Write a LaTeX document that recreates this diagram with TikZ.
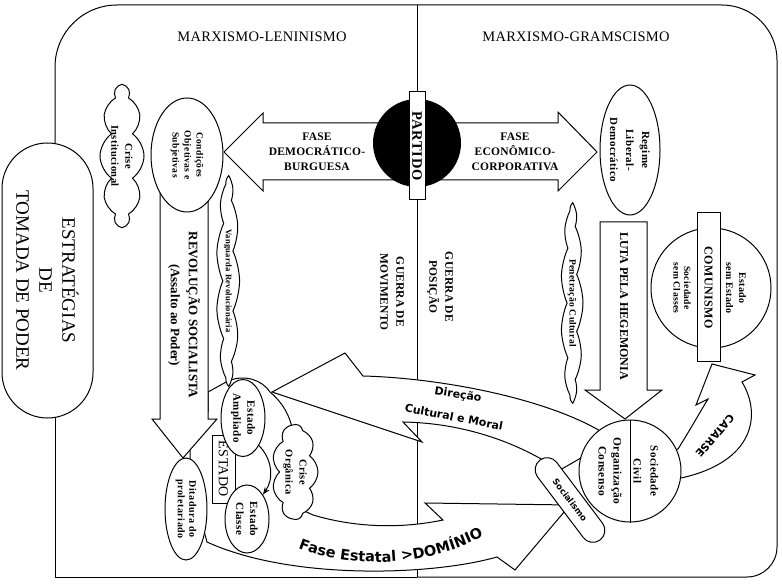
\documentclass[tikz,border=0pt]{standalone}
\usepackage{fontspec}
\setmainfont{Liberation Serif}
\newfontfamily\heavyfont{DejaVu Sans}
\usetikzlibrary{arrows.meta, shapes.geometric, shapes.misc, shapes.symbols, decorations.text}

\begin{document}
\begin{tikzpicture}[
    x=1pt, y=-1pt,
    >=Stealth,
    line width=1pt,
    blockarrow/.style={draw, fill=white, line join=miter},
    bubble/.style={ellipse, draw, fill=white, inner sep=0pt, align=center, rotate=-90},
    cloudy/.style={cloud, draw, fill=white, inner sep=0pt, align=center, rotate=-90, cloud puff arc=110},
    flame/.style={cloud, draw, fill=white, inner sep=0pt, align=center, rotate=-90,
                  cloud puffs=11, cloud puff arc=50, aspect=10},
    vtext/.style={rotate=-90, align=center, inner sep=0pt},
    small/.style={font=\fontsize{10.5}{14}\selectfont\bfseries\addfontfeature{LetterSpace=4}},
    heavy/.style={font=\heavyfont\bfseries\fontsize{11}{13}\selectfont},
]
\useasboundingbox (0,0) rectangle (782,585);

% === MOLDURA ===
\draw (417,5) -- (417,577);
\draw[rounded corners=62] (55,143) -- (55,5) -- (417,5);
\draw[rounded corners=55] (417,5) -- (777,5) -- (777,300);
\draw[rounded corners=30] (777,300) -- (777,577) -- (417,577);
\draw (417,577) -- (55,577) -- (55,418);

% === TITULOS ===
\node[font=\fontsize{14.5}{16}\selectfont\addfontfeature{LetterSpace=2}] (mlen) at (262,37) {MARXISMO-LENINISMO};
\node[font=\fontsize{14.5}{16}\selectfont\addfontfeature{LetterSpace=2}] (mgra) at (576,37) {MARXISMO-GRAMSCISMO};

% === ESTRATEGIAS ===
\node[rounded rectangle, draw, fill=white, rotate=-90, minimum width=275, minimum height=91,
      inner sep=0pt, align=center, font=\fontsize{19}{23}\selectfont] (estrat) at (47.5,280.5)
      {ESTRATÉGIAS\\DE\\TOMADA DE PODER};

% === FASE ESTATAL (dominio) ===
\draw[blockarrow] (208,392) -- (228,381) .. controls (245,374) and (262,380) .. (270,392)
    .. controls (282,402) and (290,415) .. (293,432) -- (298,508) -- (313,515)
    .. controls (350,526) and (395,530) .. (443,520) -- (425,503) -- (570,505) -- (515,570)
    -- (497,557) .. controls (430,576) and (290,580) .. (207,542)
    -- (190,480) -- (190,430) -- (208,412) -- cycle;
\path[decorate, decoration={text along path, text align=center,
      text={|\heavyfont\bfseries\fontsize{14.5}{14}\selectfont|Fase Estatal >DOMÍNIO}}]
    (281,540) .. controls (330,568) and (425,575) .. (500,527);

% === DIRECAO CULTURAL E MORAL ===
\draw[blockarrow] (272,392) -- (345,353) -- (363,376) .. controls (440,378) and (545,398) .. (602,432)
    -- (600,447) -- (560,470) -- (548,463) .. controls (510,440) and (460,423) .. (403,422)
    -- (422,442) -- cycle;
\node[heavy, rotate=-9] (direc) at (458,395) {Direção};
\node[heavy, rotate=-11] (culmor) at (454,417) {Cultural e Moral};

% === LADO LENINISTA ===
\draw[blockarrow] (160,185) -- (160,419) -- (152,419) -- (183,458) -- (217,419) -- (208,419) -- (208,185) -- cycle;
\node[vtext, font=\fontsize{13}{18}\selectfont\bfseries] (revol) at (184,315)
    {REVOLUÇÃO SOCIALISTA\\(Assalto ao Poder)};

\draw[blockarrow] (400,123) -- (263,123) -- (263,113) -- (224,152) -- (263,191) -- (263,180) -- (400,180) -- cycle;
\node[align=center, font=\fontsize{11.5}{15}\selectfont\bfseries\addfontfeature{LetterSpace=2}] (fdem) at (317,152)
    {FASE\\DEMOCRÁTICO-\\BURGUESA};

\node[bubble, minimum width=114, minimum height=72, font=\fontsize{9.5}{12}\selectfont\bfseries\addfontfeature{LetterSpace=4}]
    (cond) at (187,155) {Condições\\Objetivas e\\Subjetivas};
\node[cloudy, cloud puffs=10, aspect=3, minimum width=140, minimum height=44, small]
    (crinst) at (122,156) {Crise\\Institucional};
\node[flame, minimum width=205, minimum height=20,
      font=\fontsize{8.5}{9}\selectfont\bfseries\addfontfeature{LetterSpace=3}]
    (vang) at (228,281) {Vanguarda Revolucionária};

\node[vtext, font=\fontsize{11.5}{16}\selectfont\bfseries\addfontfeature{LetterSpace=2}] (gmov) at (392,292)
    {GUERRA DE\\MOVIMENTO};

% === ESTADO ===
\node[draw, fill=white, rotate=-90, minimum width=68, minimum height=23, inner sep=0pt,
      font=\fontsize{14}{14}\selectfont\addfontfeature{LetterSpace=3}] (estado) at (223.5,469) {ESTADO};
\node[bubble, minimum width=77, minimum height=44, font=\fontsize{11}{14}\selectfont\bfseries\addfontfeature{LetterSpace=4}]
    (eamp) at (243,418) {Estado\\Ampliado};
\node[bubble, minimum width=68, minimum height=44, font=\fontsize{11}{14}\selectfont\bfseries\addfontfeature{LetterSpace=4}]
    (ecla) at (247,519) {Estado\\Classe};
\node[bubble, minimum width=102, minimum height=42, font=\fontsize{10}{11.5}\selectfont\bfseries\addfontfeature{LetterSpace=6}]
    (ditad) at (186,509) {Ditadura do\\proletariado};
\node[cloudy, cloud puffs=9, aspect=2, minimum width=95, minimum height=46, small]
    (corg) at (295,472) {Crise\\Orgânica};
\draw[->] (eamp.north east) to[bend left=40] (ecla.north west);

% === LADO GRAMSCIANO ===
\draw[blockarrow] (434,123) -- (558,123) -- (558,112) -- (597,152) -- (558,191) -- (558,180) -- (434,180) -- cycle;
\node[align=center, font=\fontsize{11.5}{15}\selectfont\bfseries\addfontfeature{LetterSpace=2}] (feco) at (515,152)
    {FASE\\ECONÔMICO-\\CORPORATIVA};

% Partido
\node[circle, fill=black, minimum size=88, inner sep=0pt] (partido) at (417,143) {};
\node[draw, fill=white, rotate=-90, minimum width=108, minimum height=16, inner sep=0pt,
      font=\fontsize{14.5}{14}\selectfont\bfseries\addfontfeature{LetterSpace=5}] (partbox) at (417,146) {PARTIDO};

\node[vtext, font=\fontsize{11.5}{16}\selectfont\bfseries\addfontfeature{LetterSpace=2}] (gpos) at (440,287)
    {GUERRA DE\\POSIÇÃO};

\node[bubble, minimum width=130, minimum height=60, font=\fontsize{11}{16}\selectfont\bfseries\addfontfeature{LetterSpace=4}]
    (regime) at (630,150) {Regime\\Liberal-\\Democrático};
\node[flame, minimum width=195, minimum height=22,
      font=\fontsize{9.5}{10}\selectfont\bfseries\addfontfeature{LetterSpace=3}]
    (penet) at (572,303) {Penetração Cultural};

\draw[blockarrow] (600,222) -- (600,390) -- (585,390) -- (625,419) -- (662,390) -- (647,390) -- (647,222) -- cycle;
\node[vtext, font=\fontsize{12}{14}\selectfont\bfseries] (luta) at (624,306) {LUTA PELA HEGEMONIA};

% Catarse
\draw[blockarrow] (668,452) -- (678,449) .. controls (690,430) and (700,412) .. (708,399) -- (696,405)
    -- (712,364) -- (755,375) -- (742,382) .. controls (762,415) and (754,462) .. (681,478) -- (668,478) -- cycle;
\node[heavy, font=\heavyfont\bfseries\fontsize{10.5}{12}\selectfont, rotate=-131] (catarse) at (715,436) {CATARSE};

% Comunismo
\node[circle, draw, fill=white, minimum size=120, inner sep=0pt] (comun) at (711,288) {};
\node[draw, fill=white, rotate=-90, minimum width=149, minimum height=23, inner sep=0pt,
      font=\fontsize{12}{11}\selectfont\bfseries\addfontfeature{LetterSpace=4}] (combox) at (708.5,287.5) {COMUNISMO};
\node[vtext, font=\fontsize{10}{13}\selectfont\bfseries\addfontfeature{LetterSpace=4}] (semest) at (736,288)
    {Estado\\sem Estado};
\node[vtext, font=\fontsize{9.5}{10.5}\selectfont\bfseries\addfontfeature{LetterSpace=4}] (semcla) at (682,288)
    {Sociedade\\sem Classes};

% Sociedade civil
\node[rounded rectangle, draw, fill=white, rotate=-53, minimum width=100, minimum height=24, inner sep=0pt,
      font=\heavyfont\bfseries\fontsize{8.5}{10}\selectfont] (social) at (570,500) {Socialismo};
\node[circle, draw, fill=white, minimum size=102, inner sep=0pt] (sciv) at (630,471) {};
\draw (sciv.north) -- (sciv.south);
\node[vtext, font=\fontsize{11}{17}\selectfont\bfseries\addfontfeature{LetterSpace=4}] (scivtxt) at (646,471)
    {Sociedade\\Civil};
\node[vtext, font=\fontsize{11.5}{15}\selectfont\bfseries\addfontfeature{LetterSpace=4}] (orgtxt) at (610,471)
    {Organização\\Consenso};

\end{tikzpicture}
\end{document}
